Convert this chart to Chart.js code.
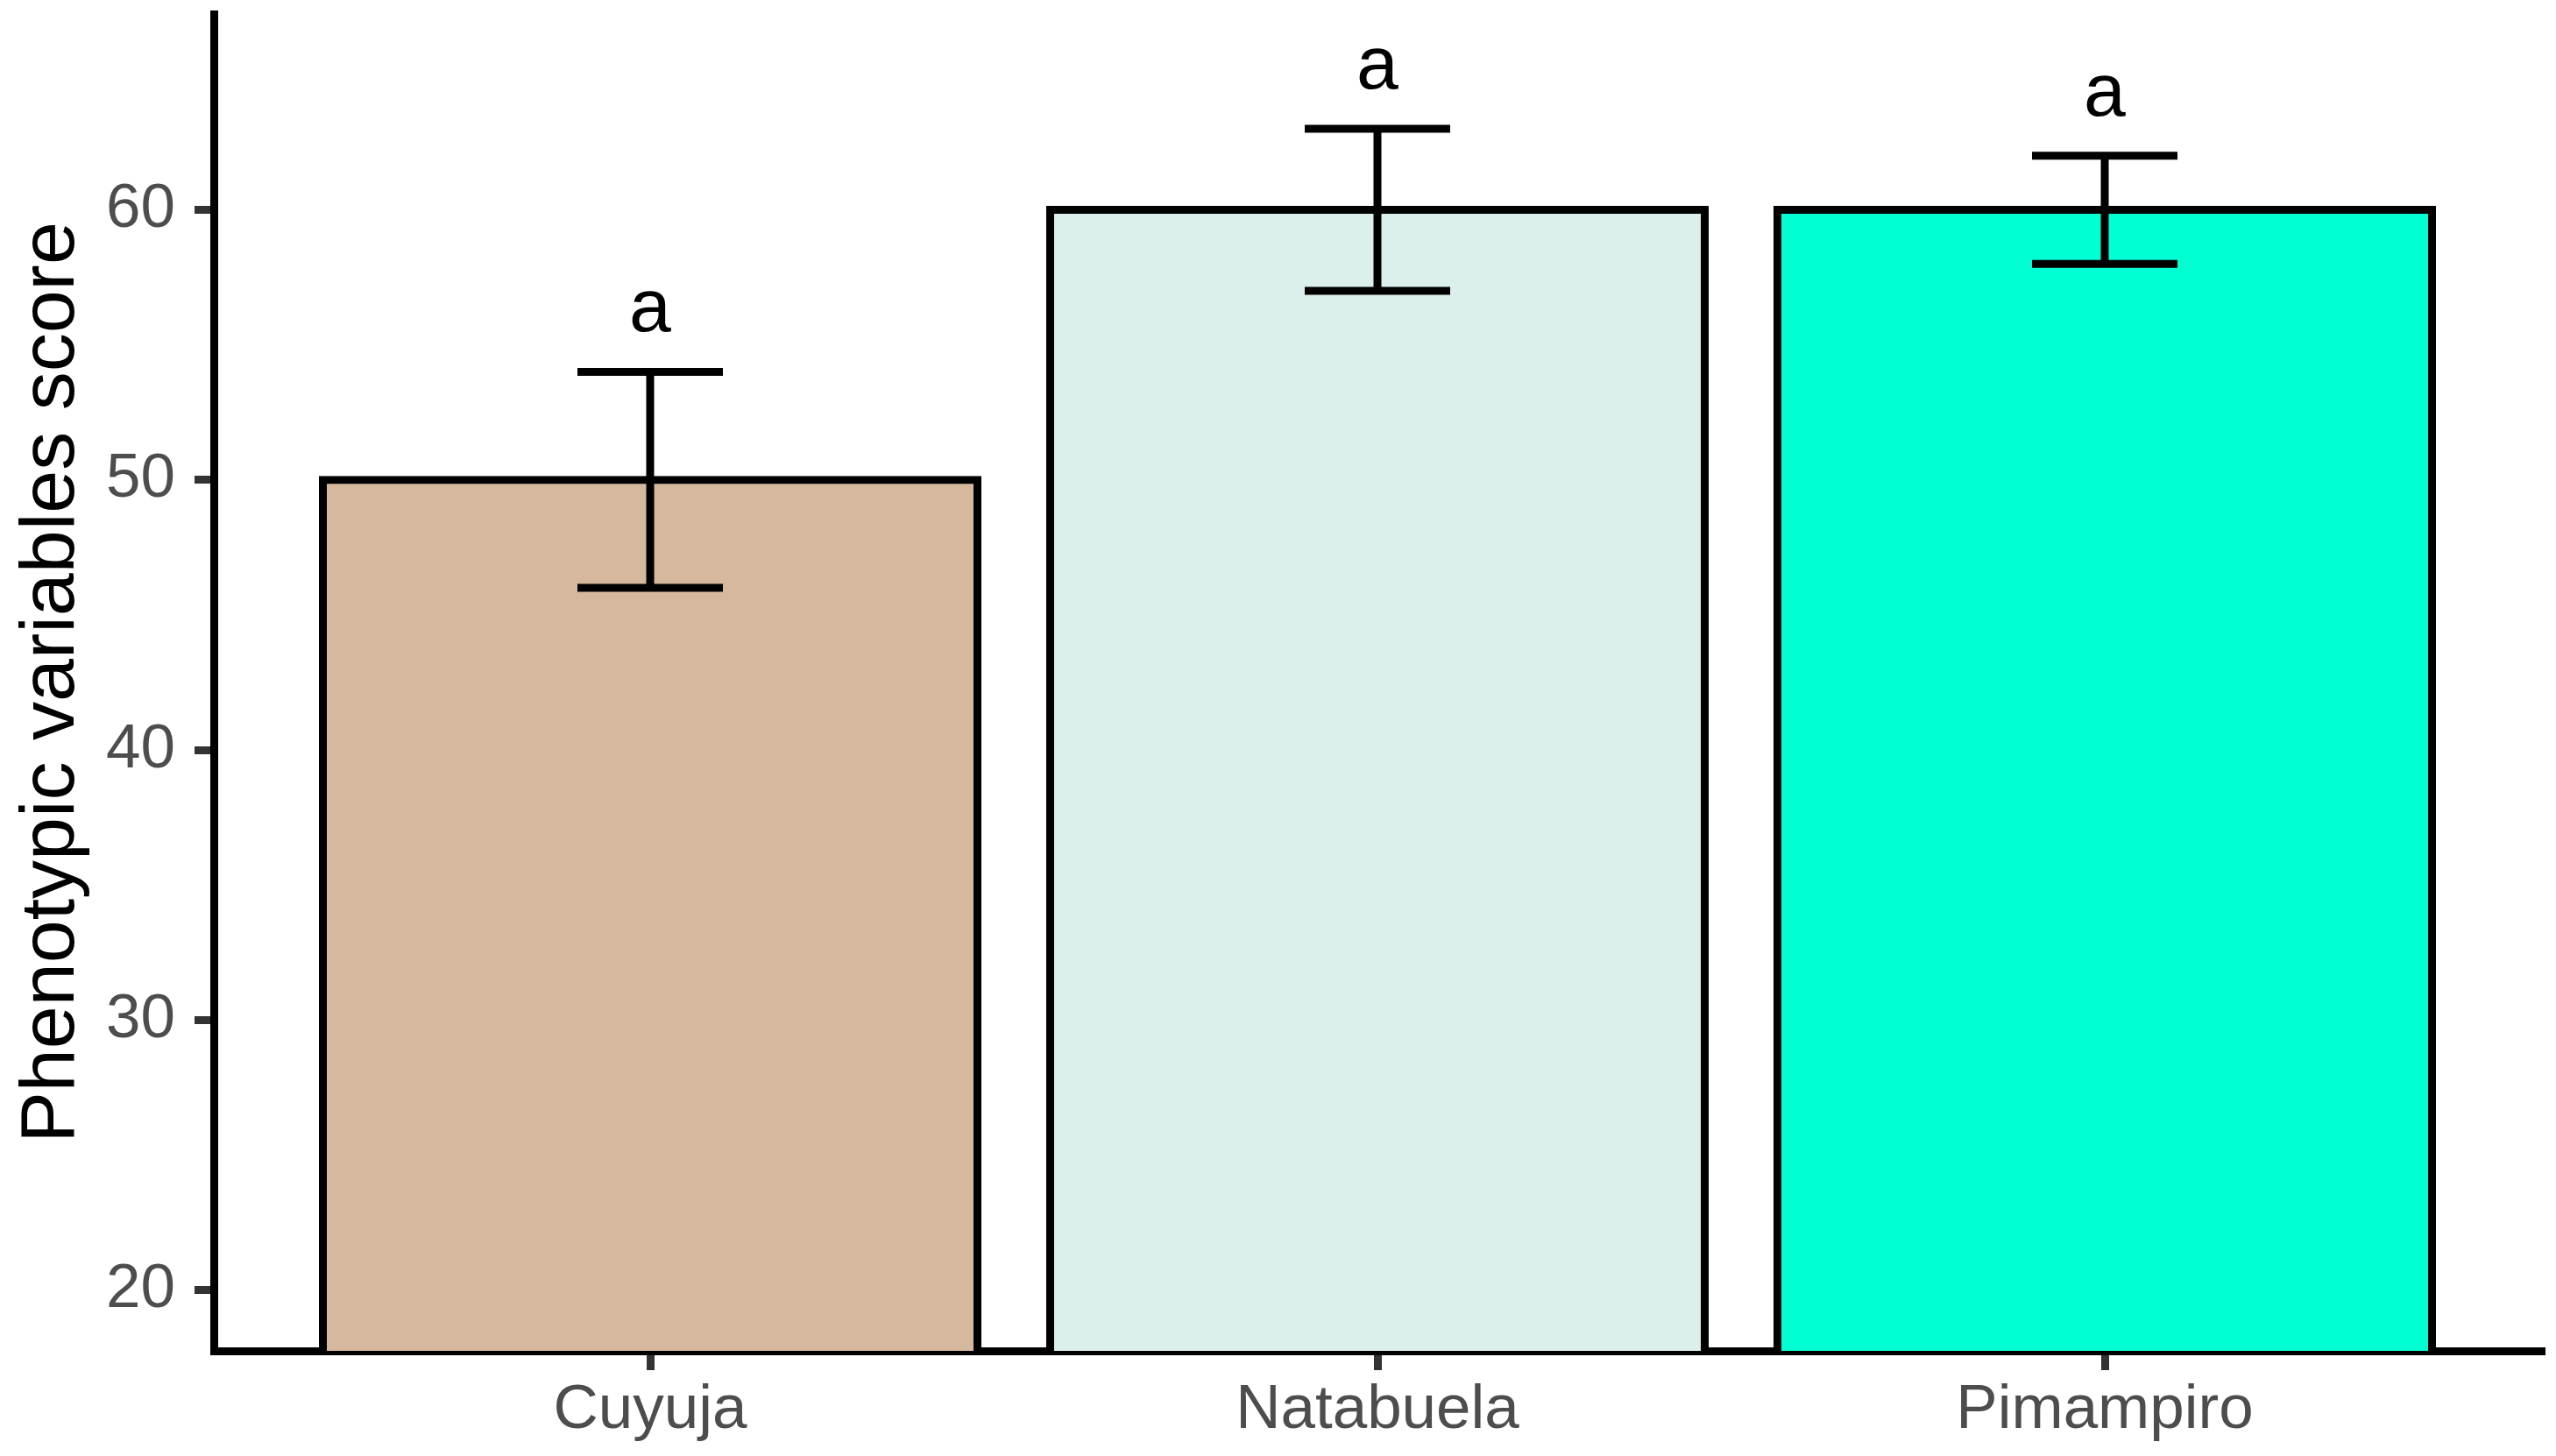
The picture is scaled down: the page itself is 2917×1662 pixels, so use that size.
<!DOCTYPE html>
<html>
<head>
<meta charset="utf-8">
<title>Phenotypic variables score</title>
<script src="https://cdn.jsdelivr.net/npm/chart.js@4/dist/chart.umd.min.js"></script>
<style>
  html, body { margin: 0; padding: 0; background: #ffffff; }
  #wrap { width: 2917px; height: 1662px; }
</style>
</head>
<body>
<div id="wrap"><canvas id="barChart" width="2917" height="1662"></canvas></div>
<script>
// data
const categories = ['Cuyuja', 'Natabuela', 'Pimampiro'];
const means = [50, 60, 60];
const lowerErr = [46, 57, 58];
const upperErr = [54, 63, 62];
const sigLetters = ['a', 'a', 'a'];
const barColors = ['#D5B89D', '#DBEFEC', '#00FFD2'];
const yTicks = [20, 30, 40, 50, 60];

const FONT = "'Liberation Sans', Arial, sans-serif";
const LINE = 9;

// error bars + letters drawn on top of the bars
const errorBarPlugin = {
    id: 'errorBars',
    afterDatasetsDraw: function(chart) {
        const ctx = chart.ctx;
        const x = chart.scales.x;
        const y = chart.scales.y;
        ctx.save();
        ctx.strokeStyle = '#000000';
        ctx.lineWidth = LINE;
        ctx.lineCap = 'butt';
        categories.forEach((cat, i) => {
            const cx = x.getPixelForValue(i + 1);
            const left = x.getPixelForValue(i + 1 - 0.1);
            const right = x.getPixelForValue(i + 1 + 0.1);
            const yLo = y.getPixelForValue(lowerErr[i]);
            const yHi = y.getPixelForValue(upperErr[i]);
            ctx.beginPath();
            ctx.moveTo(cx, yLo); ctx.lineTo(cx, yHi);
            ctx.moveTo(left, yLo); ctx.lineTo(right, yLo);
            ctx.moveTo(left, yHi); ctx.lineTo(right, yHi);
            ctx.stroke();

            ctx.fillStyle = '#000000';
            ctx.font = '86px ' + FONT;
            ctx.textAlign = 'center';
            ctx.textBaseline = 'alphabetic';
            ctx.fillText(sigLetters[i], cx, yHi - 46);
        });
        ctx.restore();
    }
};

const barData = categories.map((c, i) => ({ x: i + 1, y: means[i] }));

new Chart(document.getElementById('barChart').getContext('2d'), {
    type: 'bar',
    data: {
        datasets: [{
            data: barData,
            backgroundColor: barColors,
            borderColor: '#000000',
            borderWidth: LINE,
            inflateAmount: LINE / 2,   // centre the outline on the bar edge like ggplot
            borderSkipped: 'start',
            categoryPercentage: 1,
            barPercentage: 0.9,
            clip: 0
        }]
    },
    options: {
        responsive: false,
        animation: false,
        layout: { padding: { top: 16, right: 17, left: 0, bottom: 0 } },
        plugins: {
            legend: { display: false },
            tooltip: { enabled: false }
        },
        scales: {
            x: {
                type: 'linear',
                min: 0.4,
                max: 3.6,
                offset: false,
                afterBuildTicks: function(scale) {
                    scale.ticks = categories.map((c, i) => ({ value: i + 1 }));
                },
                afterFit: function(scale) {
                    scale.height = 120;
                    scale.paddingLeft = 0;
                    scale.paddingRight = 0;
                },
                ticks: {
                    callback: function(value) { return categories[value - 1]; },
                    color: '#4D4D4D',
                    font: { size: 71, family: FONT },
                    padding: 4,
                    maxRotation: 0,
                    autoSkip: false
                },
                grid: {
                    offset: false,
                    drawOnChartArea: false,
                    drawTicks: true,
                    tickLength: 22,
                    tickColor: '#333333',
                    lineWidth: LINE
                },
                border: { display: true, color: '#000000', width: LINE }
            },
            y: {
                min: 17.75,
                max: 67.25,
                afterBuildTicks: function(scale) {
                    scale.ticks = yTicks.map(v => ({ value: v }));
                },
                afterFit: function(scale) {
                    scale.width = 244;
                    scale.paddingTop = 0;
                    scale.paddingBottom = 0;
                },
                ticks: {
                    color: '#4D4D4D',
                    font: { size: 71, family: FONT },
                    padding: 22
                },
                grid: {
                    drawOnChartArea: false,
                    drawTicks: true,
                    tickLength: 22,
                    tickColor: '#333333',
                    lineWidth: LINE
                },
                border: { display: true, color: '#000000', width: LINE },
                title: {
                    display: true,
                    text: 'Phenotypic variables score',
                    color: '#000000',
                    font: { size: 88, family: FONT },
                    padding: { top: 7, bottom: 0 }
                }
            }
        }
    },
    plugins: [errorBarPlugin]
});
</script>
</body>
</html>
